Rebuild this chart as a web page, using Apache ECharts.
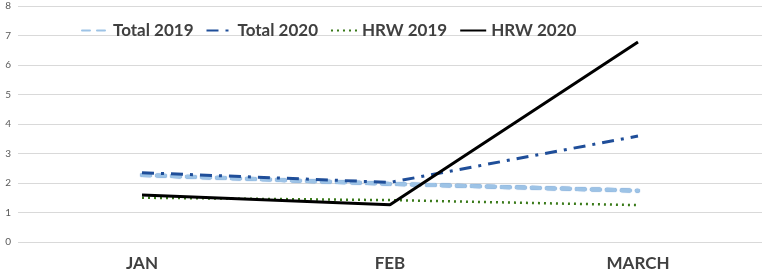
<!DOCTYPE html>
<html><head><meta charset="utf-8">
<script src="https://cdn.jsdelivr.net/npm/echarts@6/dist/echarts.min.js"></script>
<style>html,body{margin:0;padding:0;background:#fff}#c{width:768px;height:273px}</style>
</head><body><div id="c"></div>
<script>
const categories = ['JAN', 'FEB', 'MARCH'];
const total2019 = [2.27, 1.97, 1.74];
const total2020 = [2.35, 2.02, 3.59];
const hrw2019 = [1.50, 1.42, 1.25];
const hrw2020 = [1.59, 1.26, 6.78];
const yTicks = [0, 1, 2, 3, 4, 5, 6, 7, 8];

const chart = echarts.init(document.getElementById('c'));
const fontFam = 'Lato, "Open Sans", sans-serif';
function ser(name, data, ls) {
  return { name, type: 'line', data, symbol: 'none', lineStyle: ls, itemStyle: { color: ls.color }, z: ls.z || 2 };
}
chart.setOption({
  animation: false,
  grid: { left: 18, right: 6, top: 6, bottom: 31 },
  legend: {
    left: 76, top: 17, itemWidth: 26, itemHeight: 10, itemGap: 12,
    itemStyle: { opacity: 0 },
    textStyle: { fontFamily: fontFam, fontWeight: 'bold', fontSize: 17, color: '#404040' },
    data: ['Total 2019', 'Total 2020', 'HRW 2019', 'HRW 2020']
  },
  xAxis: {
    type: 'category', data: categories, boundaryGap: true,
    axisLine: { show: false }, axisTick: { show: false },
    axisLabel: { margin: 13, fontFamily: fontFam, fontWeight: 'bold', fontSize: 17, color: '#404040' }
  },
  yAxis: {
    type: 'value', min: yTicks[0], max: yTicks[yTicks.length - 1], interval: 1,
    axisLine: { show: false }, axisTick: { show: false },
    axisLabel: { margin: 7, fontFamily: fontFam, fontSize: 10, color: '#595959' },
    splitLine: { lineStyle: { color: '#d9d9d9', width: 1 } }
  },
  series: [
    ser('Total 2019', total2019, { color: '#9dc3e6', width: 4, type: [8, 7], cap: 'round', shadowColor: '#4f86c6', shadowBlur: 1 }),
    ser('Total 2020', total2020, { color: '#1f4e99', width: 3, type: [12, 7, 3, 7] }),
    ser('HRW 2019', hrw2019, { color: '#3a7a1a', width: 2.5, type: [2, 4] }),
    ser('HRW 2020', hrw2020, { color: '#000000', width: 3, z: 3 })
  ]
});
</script></body></html>
